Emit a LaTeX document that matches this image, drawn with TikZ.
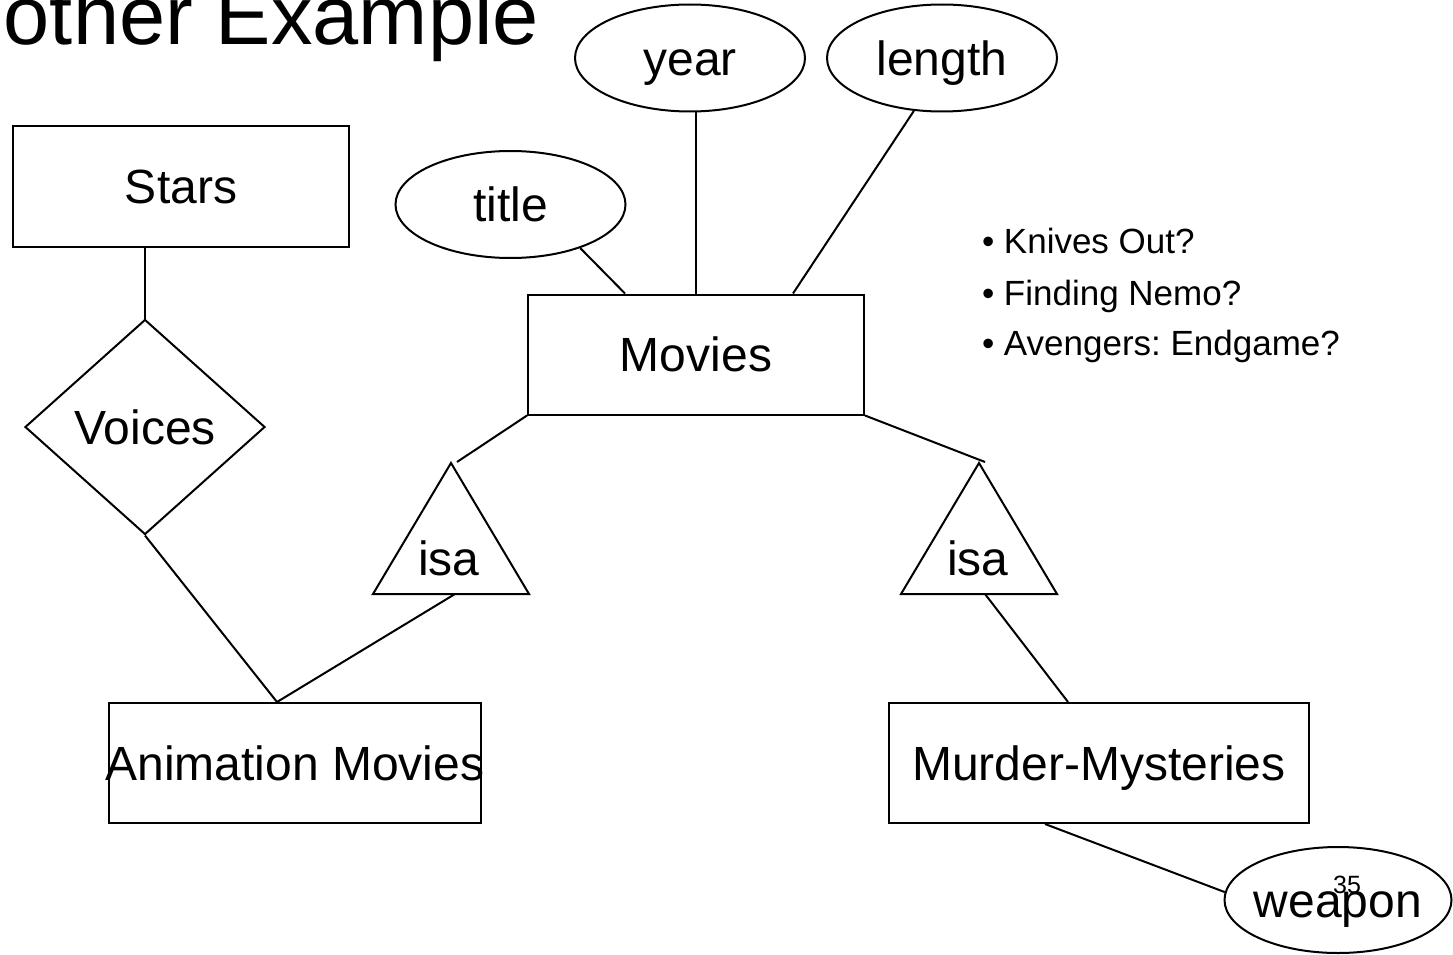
\documentclass[tikz,border=0pt]{standalone}
\usepackage{fontspec}
\setmainfont{Liberation Sans}
\usetikzlibrary{shapes.geometric}
\frenchspacing

% a label whose width does not push the outline of its shape
\newcommand{\fixedlabel}[1]{\makebox[0pt]{#1}}

\tikzset{
  big/.style={font=\fontsize{48}{58}\selectfont, text height=34.4pt, text depth=0pt, inner sep=0pt},
  entity/.style={big, draw, rectangle, minimum height=120},
  attr/.style={big, draw, ellipse, minimum width=230, minimum height=107},
  rel/.style={big, draw, diamond, minimum width=240, minimum height=215},
  isalabel/.style={font=\fontsize{48}{58}\selectfont, inner sep=0pt, anchor=base},
  bullet/.style={font=\fontsize{35}{42}\selectfont, inner sep=0pt, anchor=base west},
}

\begin{document}
\begin{tikzpicture}[x=1pt, y=-1pt, line width=2pt, line join=miter]
  \useasboundingbox (0,0) rectangle (1453,955);
  \clip (0,0) rectangle (1453,955);

  % slide heading, running off the top-left corner
  \node[anchor=base east, inner sep=0pt, font=\fontsize{83}{96}\selectfont] (heading) at (540,45) {Another Example};

  % entity sets
  \node[entity, minimum width=336] (stars)  at (181,186.5) {Stars};
  \node[entity, minimum width=336] (movies) at (696,354.5) {Movies};
  \node[entity, minimum width=372] (anim)   at (295,763)   {\fixedlabel{Animation Movies}};
  \node[entity, minimum width=420] (murder) at (1099,763)  {Murder-Mysteries};

  % attributes
  \node[attr] (title)  at (510.5,204.5) {\fixedlabel{title}};
  \node[attr] (year)   at (690,58)  {\fixedlabel{year}};
  \node[attr] (length) at (942,58)  {\fixedlabel{length}};
  \node[attr, minimum width=227, minimum height=106] (weapon) at (1338,900) {\fixedlabel{weapon}};

  % relationship
  \node[rel] (voices) at (145,427) {Voices};

  % isa triangles
  \coordinate (isaLtop) at (451,463);
  \coordinate (isaLbl)  at (373,594);
  \coordinate (isaLbr)  at (529,594);
  \coordinate (isaLend) at (457,462);
  \coordinate (isaLbase) at (455,594);
  \draw (isaLtop) -- (isaLbl) -- (isaLbr) -- cycle;
  \node[isalabel] (isaLtext) at (449,575) {isa};

  \coordinate (isaRtop) at (979,463);
  \coordinate (isaRbl)  at (901,594);
  \coordinate (isaRbr)  at (1057,594);
  \coordinate (isaRend) at (985,462);
  \coordinate (isaRbase) at (985,594);
  \draw (isaRtop) -- (isaRbl) -- (isaRbr) -- cycle;
  \node[isalabel] (isaRtext) at (978,575) {isa};

  % connectors
  \draw (voices.north |- stars.south) -- (voices.north);
  \draw (voices.south) -- ([xshift=-18pt]anim.north);
  \draw (isaLbase) -- ([xshift=-18pt]anim.north);
  \draw (movies.south west) -- (isaLend);
  \draw (movies.south east) -- (isaRend);
  \draw (isaRbase) -- ([xshift=-31pt]murder.north);
  \draw ([xshift=-54pt]murder.south) -- (weapon.176);
  \draw (title.-32) -- ([xshift=-71pt]movies.north);
  \draw (movies.north) -- (movies.north |- year.south);
  \draw ([xshift=97pt]movies.north) -- (length.-118);

  % side notes
  \node[bullet] (q1) at (981,253) {• Knives Out?};
  \node[bullet] (q2) at (981,305) {• Finding Nemo?};
  \node[bullet] (q3) at (981,355) {• Avengers: Endgame?};

  % page number
  \node[anchor=base, inner sep=0pt, font=\fontsize{25}{30}\selectfont] (pageno) at (1347,893) {35};
\end{tikzpicture}
\end{document}
